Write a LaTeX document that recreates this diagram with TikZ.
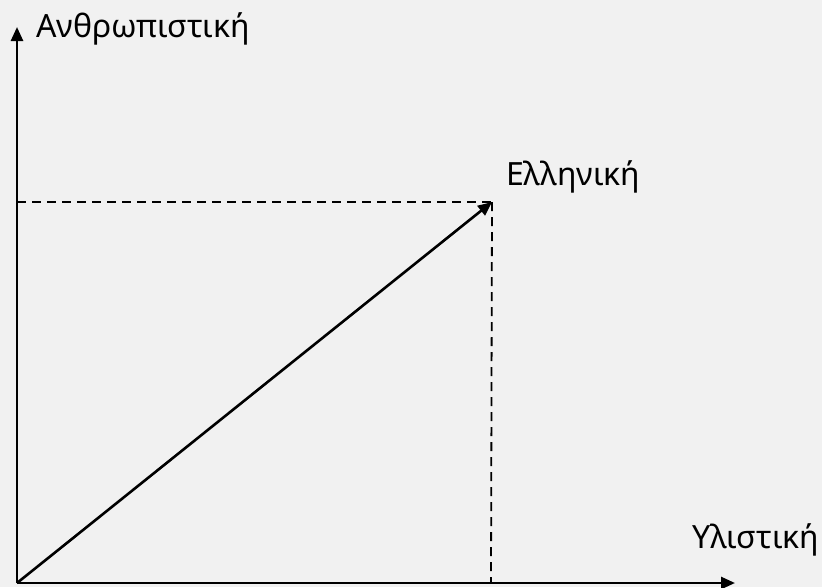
\documentclass[tikz,border=0pt]{standalone}
\usepackage{fontspec}
\setmainfont{Noto Sans}
\usepackage{tikz}
\usetikzlibrary{arrows.meta,positioning}
\definecolor{figBack}{HTML}{F1F1F1}

\begin{document}
\begin{tikzpicture}[
  x=1pt, y=-1pt,
  >={Triangle[length=14pt,width=12pt]},
  every node/.style={font=\fontsize{32}{38}\selectfont, inner sep=0pt},
  axis/.style={line width=2.6pt},
  guide/.style={line width=1.8pt, dash pattern=on 9pt off 6pt},
]
% Background and frame
\fill[figBack] (0, 0) rectangle (822, 587);
\useasboundingbox (0, 0) rectangle (822, 587);

% Points
\coordinate (O) at (17, 583);
\coordinate (Ytop) at (17, 27);
\coordinate (Xend) at (735, 583);
\coordinate (P) at (492, 202);
\coordinate (Py) at (17, 202);
\coordinate (Px) at (491, 583);

% Guides to the axes
\draw[guide] (Py) -- (P);
\draw[guide] (P) -- (Px);

% Axes
\draw[axis, ->] (O) -- (Ytop);
\draw[axis, ->] (O) -- (Xend);

% Vector
\draw[axis, ->] (O) -- (P);

% Labels
\node[anchor=base west] (ylab) at (36, 37) {Ανθρωπιστική};
\node[anchor=base west] (plab) at (506, 185) {Ελληνική};
\node[anchor=base west] (xlab) at (692, 548) {Υλιστική};
\end{tikzpicture}
\end{document}
